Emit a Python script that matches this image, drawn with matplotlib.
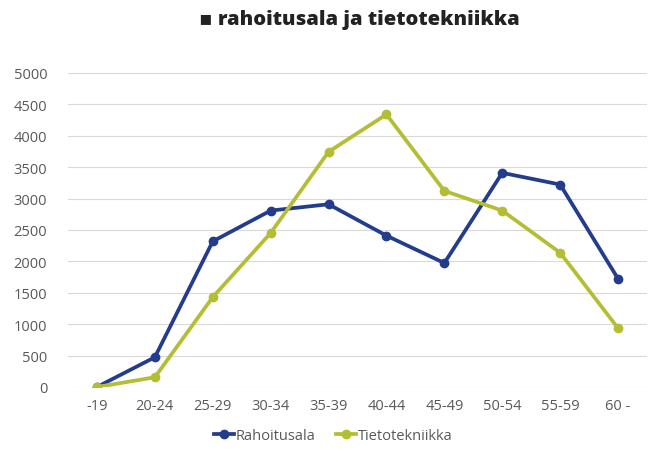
import matplotlib
matplotlib.use("Agg")
import matplotlib.pyplot as plt

categories = ["-19", "20-24", "25-29", "30-34", "35-39", "40-44", "45-49", "50-54", "55-59", "60 -"]
rahoitusala = [0, 474, 2319, 2809, 2910, 2410, 1974, 3410, 3224, 1724]
tietotekniikka = [0, 155, 1431, 2452, 3745, 4341, 3123, 2809, 2138, 936]
yticks = [0, 500, 1000, 1500, 2000, 2500, 3000, 3500, 4000, 4500, 5000]

blue = "#243C8C"
green = "#B4BE34"
grey_text = "#595959"

plt.rcParams["font.family"] = ["Open Sans", "DejaVu Sans"]

fig = plt.figure(figsize=(6.56, 4.52), dpi=100)
ax = fig.add_axes([68/656, 1-388/452, (647-68)/656, (388-74)/452])

x = list(range(len(categories)))
ax.plot(x, rahoitusala, color=blue, lw=2.7, marker="o", ms=6, label="Rahoitusala", zorder=3)
ax.plot(x, tietotekniikka, color=green, lw=2.7, marker="o", ms=6, label="Tietotekniikka", zorder=3)

ax.set_xlim(-0.5, len(categories) - 0.5)
ax.set_ylim(0, 5000)
ax.set_yticks(yticks)
ax.set_yticklabels([str(v) for v in yticks])
ax.set_xticks(x)
ax.set_xticklabels(categories)
ax.grid(axis="y", color="#D9D9D9", lw=0.8, zorder=0)
ax.set_axisbelow(True)
for s in ax.spines.values():
    s.set_visible(False)
ax.tick_params(axis="both", length=0, colors=grey_text, labelsize=10.5)
ax.tick_params(axis="y", pad=15)
ax.tick_params(axis="x", pad=8)

fig.text(359/656, 1-20/452, "▪ rahoitusala ja tietotekniikka", ha="center", va="center",
         fontsize=14.5, fontweight="heavy", color="#222222")

leg = fig.legend(loc="center", bbox_to_anchor=(333/656, 1-437/452), ncol=2, frameon=False,
                 handlelength=1.4, handletextpad=0.1, columnspacing=1.4, fontsize=10.5)
for t in leg.get_texts():
    t.set_color(grey_text)

fig.savefig("out.png", dpi=100)
